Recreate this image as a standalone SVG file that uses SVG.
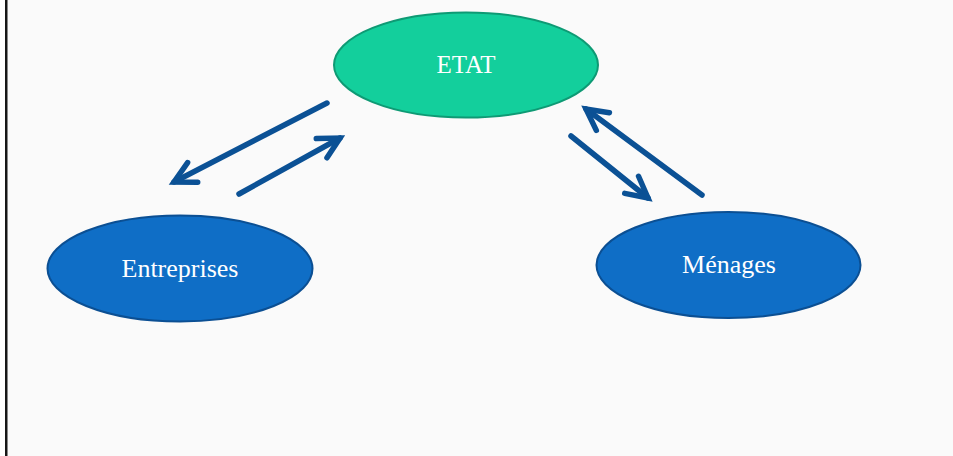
<svg xmlns="http://www.w3.org/2000/svg" width="953" height="456" viewBox="0 0 953 456">
  <defs>
    <style>
      .node-green { fill: #13CF9C; stroke: #0E9A74; stroke-width: 2; }
      .node-blue { fill: #0F6EC6; stroke: #0B4F93; stroke-width: 2; }
      .label { font-family: "Liberation Serif", "DejaVu Serif", serif; fill: #FFFFFF; text-anchor: middle; }
      .conn { stroke: #0B5195; stroke-width: 5.5; fill: none; stroke-linecap: round; marker-end: url(#chev); }
    </style>
    <marker id="chev" markerUnits="userSpaceOnUse" markerWidth="60" markerHeight="60" refX="0" refY="0" orient="auto" overflow="visible" viewBox="-30 -30 60 60">
      <path d="M-21,-11 L0,0 L-21,11" fill="none" stroke="#0B5195" stroke-width="5.5" stroke-linecap="round" stroke-linejoin="miter"/>
    </marker>
  </defs>
  <rect x="0" y="0" width="953" height="456" fill="#FAFAFA"/>
  <rect x="0" y="0" width="5" height="456" fill="#FFFFFF"/>
  <rect x="5" y="0" width="2.5" height="456" fill="#161616"/>

  <g id="connectors">
    <line class="conn" x1="327" y1="103" x2="174" y2="182"/>
    <line class="conn" x1="239" y1="194" x2="340" y2="138"/>
    <line class="conn" x1="702" y1="195" x2="586" y2="109"/>
    <line class="conn" x1="571" y1="136" x2="648" y2="198"/>
  </g>

  <g id="etat">
    <ellipse class="node-green" cx="466" cy="65" rx="132" ry="52.5"/>
    <text class="label" x="466" y="73" font-size="25">ETAT</text>
  </g>
  <g id="entreprises">
    <ellipse class="node-blue" cx="180" cy="268.5" rx="132.5" ry="53"/>
    <text class="label" x="180" y="277" font-size="26">Entreprises</text>
  </g>
  <g id="menages">
    <ellipse class="node-blue" cx="728.5" cy="265" rx="132" ry="53"/>
    <text class="label" x="729" y="273" font-size="26">Ménages</text>
  </g>
</svg>
